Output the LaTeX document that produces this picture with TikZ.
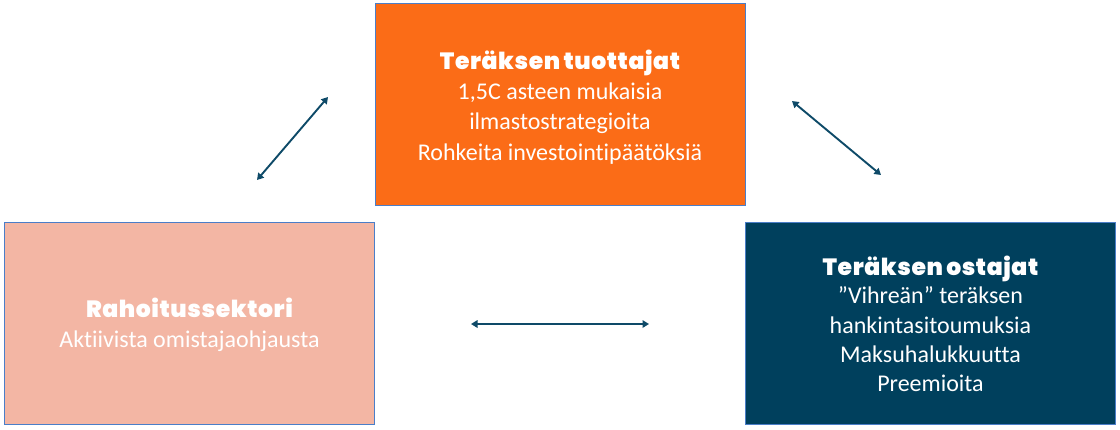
\documentclass[tikz,border=0pt]{standalone}
\usepackage{fontspec}
\setmainfont{Carlito}[Ligatures={NoCommon}]
\newfontfamily\titlefont{Poppins Black}[WordSpace=0.7,LetterSpace=2.5]
\usetikzlibrary{arrows.meta}
\definecolor{prodorange}{HTML}{FB6C17}
\definecolor{buyblue}{HTML}{00405D}
\definecolor{finpink}{HTML}{F3B6A4}
\definecolor{edgeblue}{HTML}{4A7EC8}
\definecolor{arrowblue}{HTML}{0E4A68}
\tikzset{
  box/.style={draw=edgeblue, line width=1pt, minimum width=370pt, minimum height=202pt, inner sep=0pt},
  txt/.style={align=center, text=white, font=\fontsize{24}{30.3}\selectfont, inner sep=0pt},
  link/.style={arrowblue, line width=1.9pt, {Triangle[length=6.5pt,width=7.5pt]}-{Triangle[length=6.5pt,width=7.5pt]}}
}
\newcommand{\ttltext}[1]{{\titlefont\fontsize{23.5}{30}\selectfont #1}}
\begin{document}
\begin{tikzpicture}[x=1pt,y=-1pt]
\useasboundingbox[fill=white] (0,0) rectangle (1120,429);
\node[box, fill=prodorange] (prod) at (560,104) {};
\node[box, fill=finpink] (fin) at (189.5,323) {};
\node[box, fill=buyblue] (buy) at (930.5,323) {};
\node[txt] (prodt) at (560,107) {\ttltext{Teräksen tuottajat}\\1,5C asteen mukaisia\\ilmastostrategioita\\Rohkeita investointipäätöksiä};
\node[txt] (fint) at (189.5,325) {\ttltext{Rahoitussektori}\\Aktiivista omistajaohjausta};
\node[txt, font=\fontsize{24}{29.3}\selectfont] (buyt) at (930.5,324) {\ttltext{Teräksen ostajat}\\[-1pt]”Vihreän” teräksen\\hankintasitoumuksia\\Maksuhalukkuutta\\Preemioita};
\coordinate (a1) at (257,180);
\coordinate (a2) at (328,97);
\coordinate (b1) at (792,101);
\coordinate (b2) at (881,175);
\coordinate (c1) at (471,324);
\coordinate (c2) at (649,324);
\draw[link] (a1) -- (a2);
\draw[link] (b1) -- (b2);
\draw[link] (c1) -- (c2);
\end{tikzpicture}
\end{document}
